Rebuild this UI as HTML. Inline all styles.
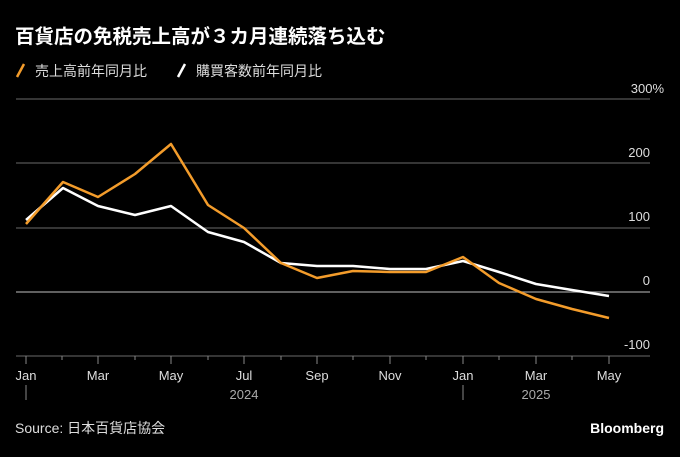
<!DOCTYPE html>
<html><head><meta charset="utf-8"><style>
body{margin:0;background:#000;width:680px;height:452px;overflow:hidden}
svg text{font-family:"Liberation Sans","Noto Sans CJK JP",sans-serif}
</style></head><body>
<svg width="680" height="452" viewBox="0 0 680 452">
<text x="15" y="43" fill="#fff" font-size="19.5" font-weight="bold">百貨店の免税売上高が３カ月連続落ち込む</text>
<line x1="17" y1="77" x2="24" y2="64" stroke="#f39c2b" stroke-width="2.5"/>
<text x="35" y="76" fill="#ddd" font-size="14">売上高前年同月比</text>
<line x1="178" y1="77" x2="185" y2="64" stroke="#fff" stroke-width="2.5"/>
<text x="196" y="76" fill="#ddd" font-size="14">購買客数前年同月比</text>
<g stroke="#555" stroke-width="1.2">
<line x1="16" y1="99" x2="650" y2="99"/>
<line x1="16" y1="163" x2="650" y2="163"/>
<line x1="16" y1="228" x2="650" y2="228"/>
<line x1="16" y1="292" x2="650" y2="292" stroke="#999"/>
<line x1="16" y1="356" x2="650" y2="356"/>
</g>
<g fill="#ddd" font-size="13" text-anchor="end">
<text x="664" y="93">300%</text>
<text x="650" y="157">200</text>
<text x="650" y="221">100</text>
<text x="650" y="285">0</text>
<text x="650" y="349">-100</text>
</g>
<g stroke="#888" stroke-width="1">
<line x1="26" y1="356" x2="26" y2="364"/><line x1="62" y1="356" x2="62" y2="360"/>
<line x1="98" y1="356" x2="98" y2="364"/><line x1="135" y1="356" x2="135" y2="360"/>
<line x1="171" y1="356" x2="171" y2="364"/><line x1="208" y1="356" x2="208" y2="360"/>
<line x1="244" y1="356" x2="244" y2="364"/><line x1="281" y1="356" x2="281" y2="360"/>
<line x1="317" y1="356" x2="317" y2="364"/><line x1="353" y1="356" x2="353" y2="360"/>
<line x1="390" y1="356" x2="390" y2="364"/><line x1="426" y1="356" x2="426" y2="360"/>
<line x1="463" y1="356" x2="463" y2="364"/><line x1="499" y1="356" x2="499" y2="360"/>
<line x1="536" y1="356" x2="536" y2="364"/><line x1="572" y1="356" x2="572" y2="360"/>
<line x1="609" y1="356" x2="609" y2="364"/>
<line x1="26" y1="385" x2="26" y2="400"/><line x1="463" y1="385" x2="463" y2="400"/>
</g>
<g fill="#ddd" font-size="13" text-anchor="middle">
<text x="26" y="380">Jan</text><text x="98" y="380">Mar</text><text x="171" y="380">May</text>
<text x="244" y="380">Jul</text><text x="317" y="380">Sep</text><text x="390" y="380">Nov</text>
<text x="463" y="380">Jan</text><text x="536" y="380">Mar</text><text x="609" y="380">May</text>
<text x="244" y="399" fill="#aaa">2024</text><text x="536" y="399" fill="#aaa">2025</text>
</g>
<polyline fill="none" stroke="#fff" stroke-width="2.5" stroke-linejoin="round" points="26,220 63,188 98,206 135,215 171,206 208,232 244,242 281,263 317,266 353,266 390,269 426,269 463,261 499,272 536,284 572,290 609,296"/>
<polyline fill="none" stroke="#f39c2b" stroke-width="2.5" stroke-linejoin="round" points="26,224 63,182 98,197 135,174 171,144 208,205 244,228 281,263 317,278 353,271 390,272 426,272 463,257 499,283 536,299 572,309 609,318"/>
<text x="15" y="433" fill="#ddd" font-size="14">Source: 日本百貨店協会</text>
<text x="664" y="433" fill="#fff" font-size="14" font-weight="bold" text-anchor="end">Bloomberg</text>
</svg>
</body></html>
